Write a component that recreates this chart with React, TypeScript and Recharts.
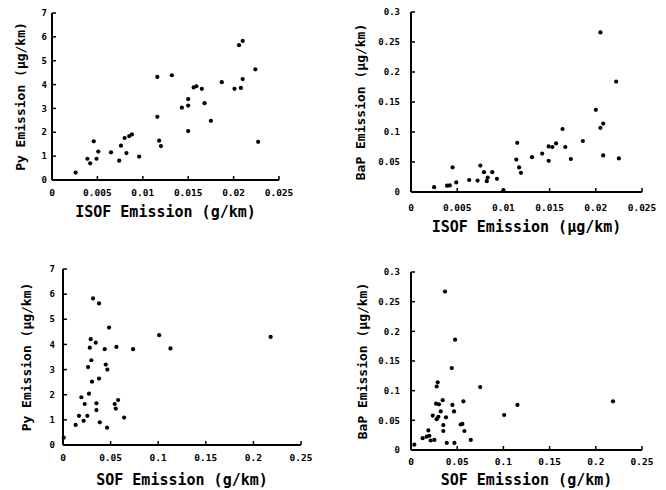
import { ScatterChart, Scatter, XAxis, YAxis, Label } from "recharts";

const ISOF_TICKS = [0, 0.005, 0.01, 0.015, 0.02, 0.025];
const SOF_TICKS = [0, 0.05, 0.1, 0.15, 0.2, 0.25];
const PY_TICKS = [0, 1, 2, 3, 4, 5, 6, 7];
const BAP_TICKS = [0, 0.05, 0.1, 0.15, 0.2, 0.25, 0.3];

// [x, y] pairs
const PY_VS_ISOF: [number, number][] = [
  [0.0026, 0.31], [0.0039, 0.89], [0.0042, 0.7], [0.0046, 1.62], [0.0049, 0.89],
  [0.0051, 1.19], [0.0065, 1.16], [0.0074, 0.81], [0.0076, 1.44], [0.008, 1.76],
  [0.0082, 1.13], [0.0085, 1.84], [0.0088, 1.91], [0.0096, 0.98], [0.0116, 4.32],
  [0.0116, 2.65], [0.0118, 1.65], [0.012, 1.42], [0.0132, 4.39], [0.0143, 3.03],
  [0.015, 3.39], [0.015, 3.12], [0.015, 2.05], [0.0156, 3.88], [0.0159, 3.93],
  [0.0165, 3.82], [0.0168, 3.22], [0.0175, 2.48], [0.0187, 4.1], [0.0201, 3.82],
  [0.0206, 5.65], [0.021, 5.83], [0.0208, 3.86], [0.021, 4.23], [0.0224, 4.64],
  [0.0227, 1.6],
];

const BAP_VS_ISOF: [number, number][] = [
  [0.0025, 0.008], [0.0039, 0.0105], [0.0042, 0.011], [0.0045, 0.041], [0.0049, 0.016],
  [0.0063, 0.02], [0.0072, 0.019], [0.0075, 0.044], [0.0079, 0.033], [0.0082, 0.018],
  [0.0083, 0.024], [0.0088, 0.033], [0.0093, 0.022], [0.01, 0.003], [0.0114, 0.054],
  [0.0115, 0.082], [0.0117, 0.041], [0.0119, 0.032], [0.0131, 0.058], [0.0142, 0.064],
  [0.0149, 0.076], [0.0149, 0.052], [0.0153, 0.075], [0.0157, 0.081], [0.0164, 0.105],
  [0.0167, 0.075], [0.0173, 0.055], [0.0186, 0.085], [0.02, 0.137], [0.0205, 0.266],
  [0.0205, 0.107], [0.0208, 0.114], [0.0208, 0.061], [0.0222, 0.184], [0.0225, 0.056],
];

const PY_VS_SOF: [number, number][] = [
  [0.0007, 0.29], [0.0133, 0.8], [0.0168, 1.16], [0.0193, 1.9], [0.0217, 0.96],
  [0.0228, 1.63], [0.0256, 1.16], [0.0263, 3.1], [0.0273, 2.04], [0.0281, 3.87],
  [0.0291, 4.21], [0.0298, 3.37], [0.0305, 2.52], [0.0316, 5.83], [0.0344, 4.07],
  [0.0351, 1.66], [0.0351, 1.39], [0.0379, 2.64], [0.0379, 5.63], [0.0386, 0.9],
  [0.0438, 3.81], [0.0449, 3.2], [0.0466, 3.0], [0.0463, 0.69], [0.0484, 4.67],
  [0.0543, 1.63], [0.0554, 1.45], [0.0561, 3.9], [0.0579, 1.79], [0.0642, 1.09],
  [0.0736, 3.81], [0.101, 4.37], [0.1129, 3.84], [0.2181, 4.3],
];

const BAP_VS_SOF: [number, number][] = [
  [0.0036, 0.009], [0.0126, 0.02], [0.017, 0.0225], [0.0188, 0.033], [0.0199, 0.024],
  [0.0213, 0.016], [0.0235, 0.058], [0.0253, 0.017], [0.0271, 0.078], [0.0278, 0.107],
  [0.0289, 0.114], [0.0278, 0.052], [0.0296, 0.056], [0.0303, 0.077], [0.0322, 0.065],
  [0.0343, 0.084], [0.035, 0.042], [0.035, 0.032], [0.0368, 0.267], [0.0379, 0.055],
  [0.0387, 0.012], [0.0441, 0.138], [0.0448, 0.076], [0.0466, 0.065], [0.047, 0.012],
  [0.0477, 0.186], [0.0538, 0.043], [0.0556, 0.044], [0.0567, 0.082], [0.0578, 0.032],
  [0.0647, 0.017], [0.0748, 0.106], [0.1008, 0.059], [0.1152, 0.076], [0.2186, 0.082],
];

const FONT = "'DejaVu Sans Mono', monospace";
const tickStyle = { fontSize: 10, fill: "#000", fontFamily: FONT, fontWeight: 700 };
const titleStyle = { fontSize: 15, fill: "#000", fontFamily: FONT, fontWeight: 700 };
const yTitleStyle = { fontSize: 13, fill: "#000", fontFamily: FONT, fontWeight: 700, textAnchor: "middle" as const };

const dot = (p: any) => <circle cx={p.cx} cy={p.cy} r={2.1} fill="#000" />;

interface PanelProps {
  left: number;
  top: number;
  width: number;
  height: number;
  marginTop: number;
  marginRight: number;
  yAxisWidth: number;
  xAxisHeight: number;
  data: [number, number][];
  xTicks: number[];
  yTicks: number[];
  xTitle: string;
  yTitle: string;
  xTickMargin: number;
  yTickMargin: number;
  xTitleOffset: number;
  yTitleOffset: number;
}

function Panel(p: PanelProps) {
  const rows = p.data.map(([x, y]) => ({ x, y }));
  return (
    <div style={{ position: "absolute", left: p.left, top: p.top }}>
      <ScatterChart
        width={p.width}
        height={p.height}
        margin={{ top: p.marginTop, right: p.marginRight, left: 0, bottom: 0 }}
      >
        <XAxis
          type="number"
          dataKey="x"
          domain={[p.xTicks[0], p.xTicks[p.xTicks.length - 1]]}
          ticks={p.xTicks}
          interval={0}
          height={p.xAxisHeight}
          tickSize={-4}
          tickMargin={p.xTickMargin}
          tick={{ ...tickStyle, fontSize: 9.5 }}
          tickFormatter={(v: number) => String(v)}
          axisLine={{ stroke: "#000", strokeWidth: 2 }}
          tickLine={{ stroke: "#000", strokeWidth: 1.5 }}
        >
          <Label value={p.xTitle} position="insideBottom" offset={p.xTitleOffset} style={titleStyle} />
        </XAxis>
        <YAxis
          type="number"
          dataKey="y"
          domain={[p.yTicks[0], p.yTicks[p.yTicks.length - 1]]}
          ticks={p.yTicks}
          interval={0}
          width={p.yAxisWidth}
          tickSize={-4}
          tickMargin={p.yTickMargin}
          tick={{ ...tickStyle, fontSize: 9 }}
          tickFormatter={(v: number) => String(v)}
          axisLine={{ stroke: "#000", strokeWidth: 2 }}
          tickLine={{ stroke: "#000", strokeWidth: 1.5 }}
        >
          <Label value={p.yTitle} angle={-90} position="insideLeft" offset={p.yTitleOffset} style={yTitleStyle} />
        </YAxis>
        <Scatter data={rows} shape={dot} isAnimationActive={false} />
      </ScatterChart>
    </div>
  );
}

export default function App() {
  return (
    <div style={{ position: "absolute", left: 0, top: 0, width: 666, height: 490, background: "#fff" }}>
      <Panel
        left={0} top={0} width={305} height={222}
        marginTop={13} marginRight={26} yAxisWidth={52} xAxisHeight={42}
        data={PY_VS_ISOF} xTicks={ISOF_TICKS} yTicks={PY_TICKS}
        xTitle="ISOF Emission (g/km)" yTitle="Py Emission (μg/km)"
        xTickMargin={13.5} yTickMargin={9} xTitleOffset={5} yTitleOffset={20}
      />
      <Panel
        left={330} top={0} width={336} height={236}
        marginTop={12} marginRight={24} yAxisWidth={81} xAxisHeight={44}
        data={BAP_VS_ISOF} xTicks={ISOF_TICKS} yTicks={BAP_TICKS}
        xTitle="ISOF Emission (μg/km)" yTitle="BaP Emission (μg/km)"
        xTickMargin={16.5} yTickMargin={15} xTitleOffset={4.5} yTitleOffset={30}
      />
      <Panel
        left={0} top={240} width={320} height={250}
        marginTop={29} marginRight={19} yAxisWidth={63} xAxisHeight={45}
        data={PY_VS_SOF} xTicks={SOF_TICKS} yTicks={PY_TICKS}
        xTitle="SOF Emission (g/km)" yTitle="Py Emission (μg/km)"
        xTickMargin={13.5} yTickMargin={12} xTitleOffset={5.5} yTitleOffset={26}
      />
      <Panel
        left={330} top={240} width={336} height={250}
        marginTop={32} marginRight={24} yAxisWidth={81} xAxisHeight={40}
        data={BAP_VS_SOF} xTicks={SOF_TICKS} yTicks={BAP_TICKS}
        xTitle="SOF Emission (g/km)" yTitle="BaP Emission (μg/km)"
        xTickMargin={12.5} yTickMargin={15} xTitleOffset={5.5} yTitleOffset={32}
      />
    </div>
  );
}
